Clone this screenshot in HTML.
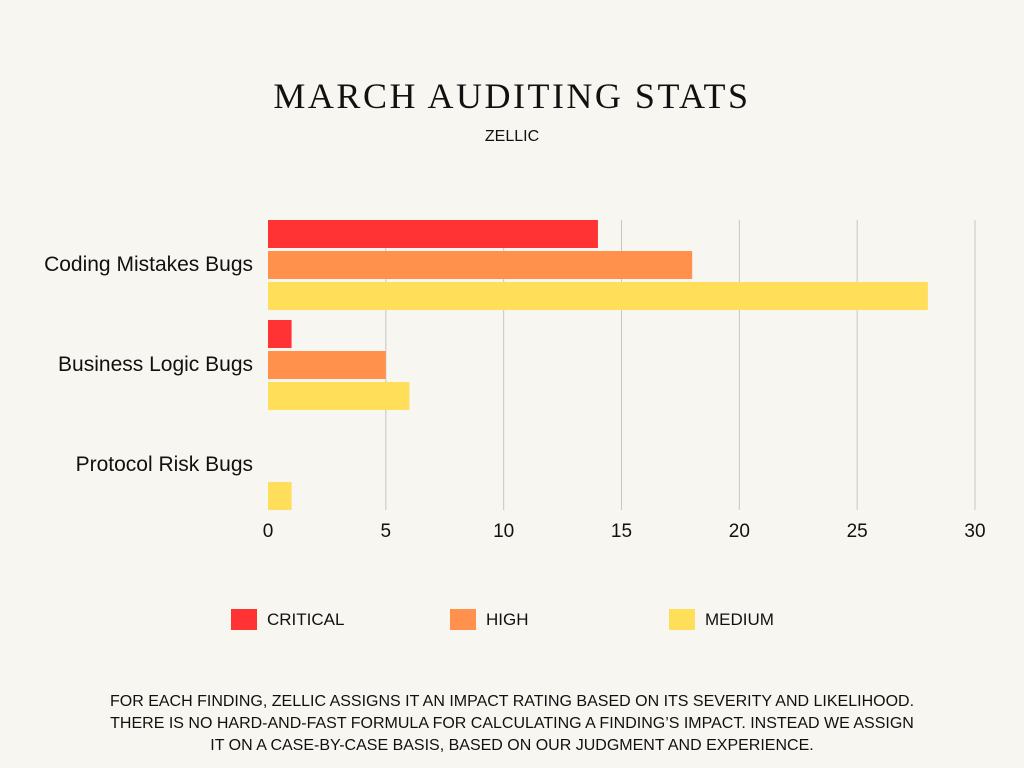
<!DOCTYPE html>
<html><head><meta charset="utf-8"><style>
body{margin:0;width:1024px;height:768px;background:#f8f6f1;position:relative;overflow:hidden;font-family:"Liberation Sans",sans-serif;color:#111}
.abs{position:absolute}
#title{left:0;width:1024px;top:75px;text-align:center;font-family:"Liberation Serif",serif;font-size:36px;letter-spacing:2.5px}
#sub{left:0;width:1024px;top:128px;text-align:center;font-size:16px}
#foot{left:0;width:1024px;top:691px;text-align:center;font-size:16px;line-height:22px}
.lg{top:609px;font-size:17px;display:flex;align-items:center}
.sw{width:26px;height:21px;margin-right:10px}
</style></head><body>
<div id="title" class="abs">MARCH AUDITING STATS</div>
<div id="sub" class="abs">ZELLIC</div>
<svg class="abs" style="left:0;top:0" width="1024" height="600" id="chart"></svg>
<div class="abs lg" style="left:231px"><div class="sw" style="background:#ff3333"></div>CRITICAL</div>
<div class="abs lg" style="left:450px"><div class="sw" style="background:#ff914d"></div>HIGH</div>
<div class="abs lg" style="left:669px"><div class="sw" style="background:#ffde59"></div>MEDIUM</div>
<div id="foot" class="abs">FOR EACH FINDING, ZELLIC ASSIGNS IT AN IMPACT RATING BASED ON ITS SEVERITY AND LIKELIHOOD.<br>THERE IS NO HARD-AND-FAST FORMULA FOR CALCULATING A FINDING’S IMPACT. INSTEAD WE ASSIGN<br>IT ON A CASE-BY-CASE BASIS, BASED ON OUR JUDGMENT AND EXPERIENCE.</div>
<script>
const categories=["Coding Mistakes Bugs","Business Logic Bugs","Protocol Risk Bugs"];
const critical=[14,1,0];
const high=[18,5,0];
const medium=[28,6,1];
const ticks=[0,5,10,15,20,25,30];
const NS="http://www.w3.org/2000/svg";
const svg=document.getElementById('chart');
const x0=268,x1=975,xmax=30;
const xs=v=>x0+(x1-x0)*v/xmax;
const groupTop=220,groupH=100,barH=28,barStep=31;
function el(t,a){const e=document.createElementNS(NS,t);for(const k in a)e.setAttribute(k,a[k]);svg.appendChild(e);return e;}
ticks.forEach(t=>{
 if(t>0){const l=el('line',{x1:xs(t),x2:xs(t),y1:220,y2:510,stroke:'#c8c6c2','stroke-width':1});
 
 }
 const tx=el('text',{x:xs(t),y:537,'text-anchor':'middle','font-size':19,'font-family':'Liberation Sans,sans-serif',fill:'#111'});
 tx.textContent=t;
 
 
});
const series=[[critical,'#ff3333','critical'],[high,'#ff914d','high'],[medium,'#ffde59','medium']];
categories.forEach((c,i)=>{
 const gy=groupTop+i*groupH;
 const lb=el('text',{x:253,y:gy+51,'text-anchor':'end','font-size':21,'font-family':'Liberation Sans,sans-serif',fill:'#111'});
 lb.textContent=c;
 
 
 series.forEach((s,j)=>{
  const v=s[0][i];if(v<=0)return;
  const r=el('rect',{x:x0,y:gy+j*barStep,width:xs(v)-x0,height:barH,fill:s[1]});
  
  
 });
});
</script>
</body></html>
